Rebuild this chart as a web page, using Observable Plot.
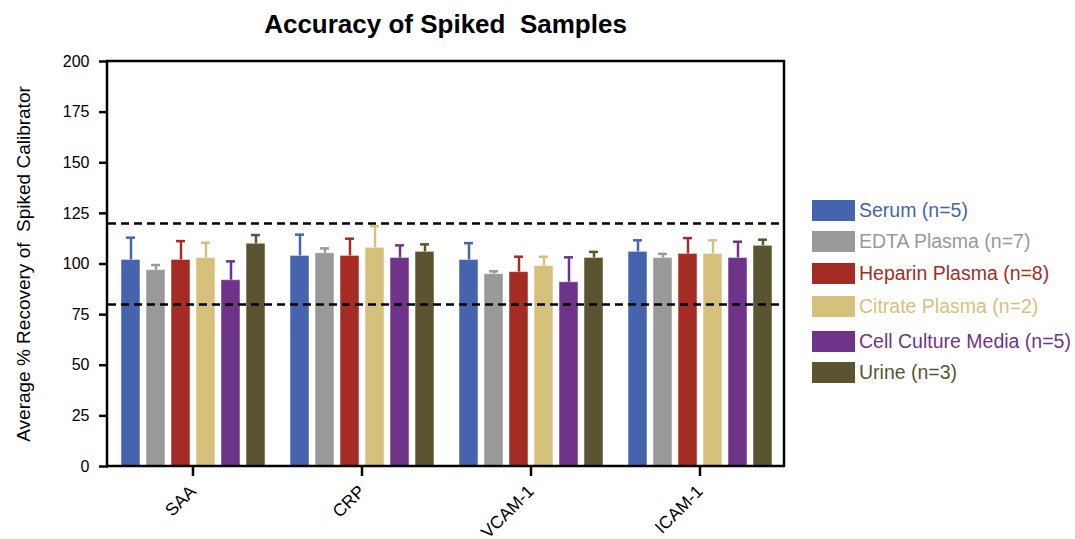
<!DOCTYPE html>
<html>
<head>
<meta charset="utf-8">
<script src="https://cdn.jsdelivr.net/npm/d3@7"></script>
<script src="https://cdn.jsdelivr.net/npm/@observablehq/plot@0.6"></script>
<style>
  html, body { margin: 0; padding: 0; background: #fff; }
  #wrap { position: relative; width: 1075px; height: 539px; overflow: hidden; font-family: "Liberation Sans", Arial, sans-serif; }
  #title { position: absolute; left: 107px; width: 677px; top: 11px; line-height: 1; text-align: center; font-weight: bold; font-size: 26px; color: #000; }
  #legend { position: absolute; left: 812px; top: 199px; }
  .row { position: absolute; left: 0; display: flex; align-items: center; white-space: nowrap; }
  .sw { width: 43px; height: 21px; margin-right: 4px; }
  .lb { font-size: 19.5px; }
</style>
</head>
<body>
<div id="wrap">
  <div id="title">Accuracy of Spiked&nbsp; Samples</div>
  <div id="legend"></div>
</div>
<script>
const groups = ["SAA", "CRP", "VCAM-1", "ICAM-1"];
const seriesNames = ["Serum (n=5)", "EDTA Plasma (n=7)", "Heparin Plasma (n=8)", "Citrate Plasma (n=2)", "Cell Culture Media (n=5)", "Urine (n=3)"];
const seriesColors = ["#4664ad", "#999999", "#a52c24", "#d6c17c", "#6f3489", "#5a5530"];

const serum    = [102, 104, 102, 106];
const edta     = [97, 105.3, 95, 103];
const heparin  = [102, 104, 96, 105];
const citrate  = [103, 108, 99, 105];
const culture  = [92, 103, 91, 103];
const urine    = [110, 106, 103, 109];

const serumErr   = [11, 10.5, 8.3, 5.7];
const edtaErr    = [2.5, 2.4, 1.4, 2];
const heparinErr = [9.3, 8.5, 7.6, 7.8];
const citrateErr = [7.5, 10.7, 4.6, 6.7];
const cultureErr = [9.3, 6.2, 12.3, 8];
const urineErr   = [4.3, 3.7, 3, 3];

const yTicks = [0, 25, 50, 75, 100, 125, 150, 175, 200];
const limits = [80, 120];

const means = [serum, edta, heparin, citrate, culture, urine];
const errs = [serumErr, edtaErr, heparinErr, citrateErr, cultureErr, urineErr];

const data = [];
groups.forEach((g, gi) => {
  seriesNames.forEach((s, si) => {
    data.push({group: g, series: s, value: means[si][gi], top: means[si][gi] + errs[si][gi]});
  });
});

const W = 1075, H = 539;
const mL = 107, mR = 291, mT = 61, mB = 73;

const plot = Plot.plot({
  width: W,
  height: H,
  marginLeft: mL,
  marginRight: mR,
  marginTop: mT,
  marginBottom: mB,
  style: {fontFamily: "Liberation Sans, Arial, sans-serif", fontSize: "16px", color: "#000", background: "transparent"},
  fx: {domain: groups, padding: 0, label: null},
  x: {domain: seriesNames, axis: null, paddingInner: 0.25, paddingOuter: 0.44},
  y: {domain: [0, 200], label: null},
  color: {domain: seriesNames, range: seriesColors},
  marks: [
    Plot.barY(data, {fx: "group", x: "series", y: "value", fill: "series", stroke: "#ffffff", strokeOpacity: 0.5, strokeWidth: 1}),
    Plot.ruleX(data, {fx: "group", x: "series", y1: "value", y2: "top", stroke: "series", strokeWidth: 2.5}),
    Plot.tickY(data, {fx: "group", x: "series", y: "top", stroke: "series", strokeWidth: 2.5, insetLeft: 5, insetRight: 5}),
    Plot.ruleY(limits, {stroke: "#000", strokeWidth: 2.5, strokeDasharray: "8,5"}),
    Plot.axisY({ticks: yTicks, tickSize: 9, tickPadding: 10, strokeWidth: 2.5, fontSize: 16, label: null}),
    Plot.axisY({ticks: [], fontSize: 19,
      label: "Average % Recovery of  Spiked Calibrator", labelAnchor: "center", labelOffset: 92, labelArrow: "none"}),
    Plot.axisFx({anchor: "bottom", tickSize: 10, tickRotate: -45, strokeWidth: 2.5, fontSize: 17.5, label: null, tickPadding: 12})
  ]
});

const svg = d3.select(plot);
svg.append("rect")
  .attr("x", mL).attr("y", mT)
  .attr("width", W - mL - mR).attr("height", H - mT - mB)
  .attr("fill", "none").attr("stroke", "#000").attr("stroke-width", 2.5);
document.getElementById("wrap").prepend(plot);
plot.style.position = "absolute";
plot.style.left = "0";
plot.style.top = "0";

const legend = document.getElementById("legend");
const rowTops = [0, 31, 63, 96, 131, 162];
seriesNames.forEach((s, i) => {
  const row = document.createElement("div");
  row.className = "row";
  row.style.top = rowTops[i] + "px";
  const sw = document.createElement("div");
  sw.className = "sw";
  sw.style.background = seriesColors[i];
  const lb = document.createElement("span");
  lb.className = "lb";
  lb.style.color = seriesColors[i];
  lb.textContent = s;
  row.appendChild(sw);
  row.appendChild(lb);
  legend.appendChild(row);
});
</script>
</body>
</html>
